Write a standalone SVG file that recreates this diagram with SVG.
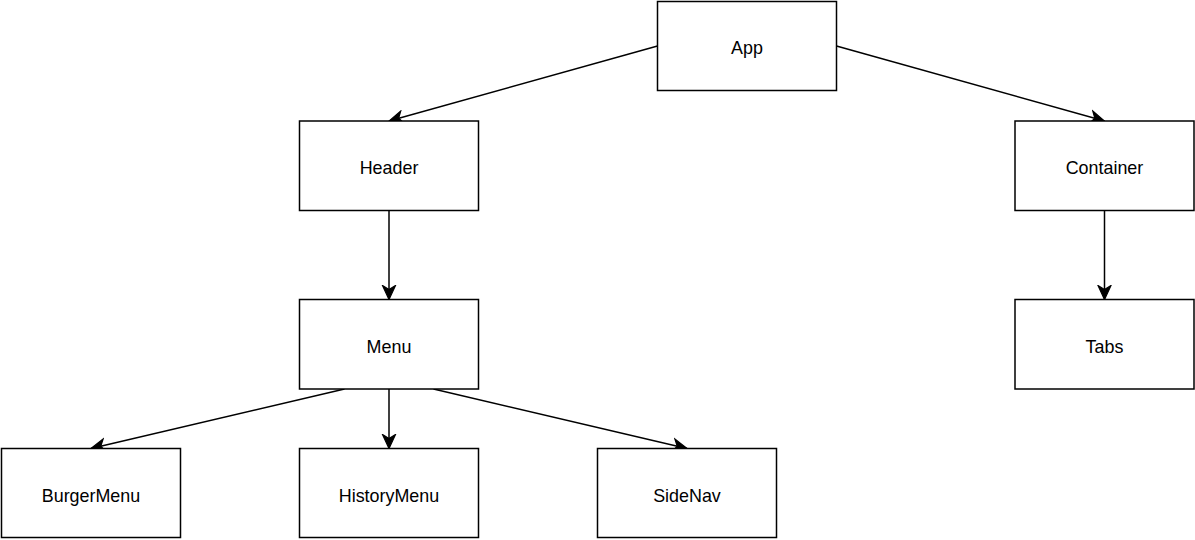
<svg xmlns="http://www.w3.org/2000/svg" width="1195" height="540" viewBox="0 0 1195 540">
<style>
.box{fill:#fff;stroke:#000;stroke-width:1.5}
.lbl{font-family:"Liberation Sans",Arial,sans-serif;font-size:17.9px;fill:#000;text-anchor:middle;dominant-baseline:central}
.edge{fill:none;stroke:#000;stroke-width:1.5;marker-end:url(#arr)}
</style>
<defs>
<marker id="arr" markerUnits="userSpaceOnUse" markerWidth="18" markerHeight="16" viewBox="0 0 18 16" refX="15" refY="8" orient="auto">
<path d="M1,1.5 L15,8 L1,14.5 L5,8 Z" fill="#000" stroke="#000" stroke-width="1.2" stroke-linejoin="miter"/>
</marker>
</defs>
<rect width="1195" height="540" fill="#fff"/>
<g id="edges">
<path class="edge" d="M657.5,46 L389,121"/>
<path class="edge" d="M836.5,46 L1104.5,121"/>
<path class="edge" d="M389,210.5 L389,299.5"/>
<path class="edge" d="M1104.5,210.5 L1104.5,299.5"/>
<path class="edge" d="M344.5,389 L91,448.5"/>
<path class="edge" d="M389,389 L389,448.5"/>
<path class="edge" d="M433.5,389 L687,448.5"/>
</g>
<g id="app"><rect class="box" x="657.5" y="1.5" width="179" height="89"/><text class="lbl" x="747" y="47.5">App</text></g>
<g id="header"><rect class="box" x="299.5" y="121" width="179" height="89.5"/><text class="lbl" x="389" y="167.5">Header</text></g>
<g id="container"><rect class="box" x="1015" y="121" width="179" height="89.5"/><text class="lbl" x="1104.5" y="167.5">Container</text></g>
<g id="menu"><rect class="box" x="299.5" y="299.5" width="179" height="89.5"/><text class="lbl" x="389" y="346.5">Menu</text></g>
<g id="tabs"><rect class="box" x="1015" y="299.5" width="179" height="89.5"/><text class="lbl" x="1104.5" y="346.5">Tabs</text></g>
<g id="burgermenu"><rect class="box" x="1.5" y="448.5" width="179" height="89"/><text class="lbl" x="91" y="495.5">BurgerMenu</text></g>
<g id="historymenu"><rect class="box" x="299.5" y="448.5" width="179" height="89"/><text class="lbl" x="389" y="495.5">HistoryMenu</text></g>
<g id="sidenav"><rect class="box" x="597.5" y="448.5" width="179" height="89"/><text class="lbl" x="687" y="495.5">SideNav</text></g>
</svg>
